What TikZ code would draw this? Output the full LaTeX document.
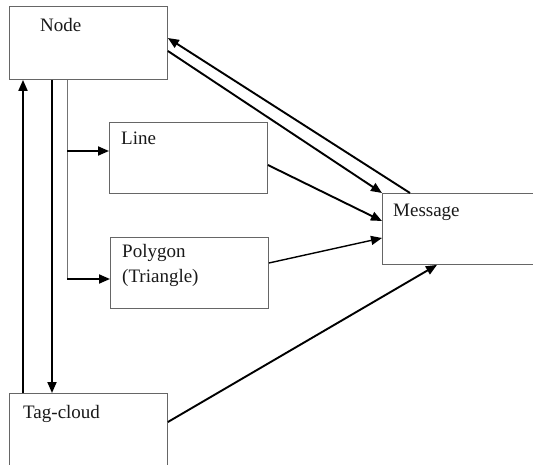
\documentclass[tikz,border=0pt]{standalone}
\usepackage{fontspec}
\setmainfont{Liberation Serif}
\newfontfamily\diagfont{Liberation Serif}
\usetikzlibrary{arrows.meta}
\begin{document}
\begin{tikzpicture}[x=1pt,y=-1pt,
  box/.style={draw=black!60,line width=0.9pt,rectangle,inner sep=0pt,anchor=north west},
  lbl/.style={anchor=base west,inner sep=0pt,font=\diagfont\fontsize{19}{23}\selectfont,text=black!90},
  arr/.style={draw=black,line width=1.9pt,-{Triangle[length=11pt,width=9pt]}},
  trunk/.style={draw=black!55,line width=1pt}]
\clip (0,0) rectangle (533,465);
\fill[white] (0,0) rectangle (533,465);
% boxes
\node[box,minimum width=158pt,minimum height=73pt] (node) at (9,6) {};
\node[box,minimum width=158pt,minimum height=71pt] (line) at (109,122) {};
\node[box,minimum width=158pt,minimum height=71pt] (poly) at (110,237) {};
\node[box,minimum width=158pt,minimum height=100pt] (tag) at (9,393) {};
\node[box,minimum width=180pt,minimum height=71pt] (msg) at (382,193) {};
% labels
\node[lbl] (tnode) at (40,32) {Node};
\node[lbl] (tline) at (121,145) {Line};
\node[lbl] (tpoly) at (122,258) {Polygon};
\node[lbl] (ttri) at (122,283) {(Triangle)};
\node[lbl] (ttag) at (23,418) {Tag-cloud};
\node[lbl] (tmsg) at (393,217) {Message};
% trunk from Node to Line and Polygon
\coordinate (tA) at (67,151);
\coordinate (tB) at (67,279);
\draw[trunk] ([xshift=58pt]node.south west) -- (tB);
\draw[arr] (tA) -- (tA -| line.west);
\draw[arr] (tB) -- (tB -| poly.west);
% verticals between Node and Tag-cloud
\draw[arr] ([xshift=14pt]tag.north west) -- ([xshift=14pt]node.south west);
\draw[arr] ([xshift=43pt]node.south west) -- ([xshift=43pt]tag.north west);
% Node <-> Message
\draw[arr] ([yshift=-45pt]node.north east) -- (msg.north west);
\draw[arr] ([xshift=28pt]msg.north west) -- ([yshift=-32pt]node.north east);
% Line, Polygon, Tag-cloud to Message
\draw[arr] ([yshift=-43pt]line.north east) -- ([yshift=-28pt]msg.north west);
\draw[arr,line width=1.4pt] ([yshift=-26pt]poly.north east) -- ([yshift=-45pt]msg.north west);
\draw[arr] ([yshift=-29pt]tag.north east) -- ([xshift=55pt]msg.south west);
\end{tikzpicture}
\end{document}
